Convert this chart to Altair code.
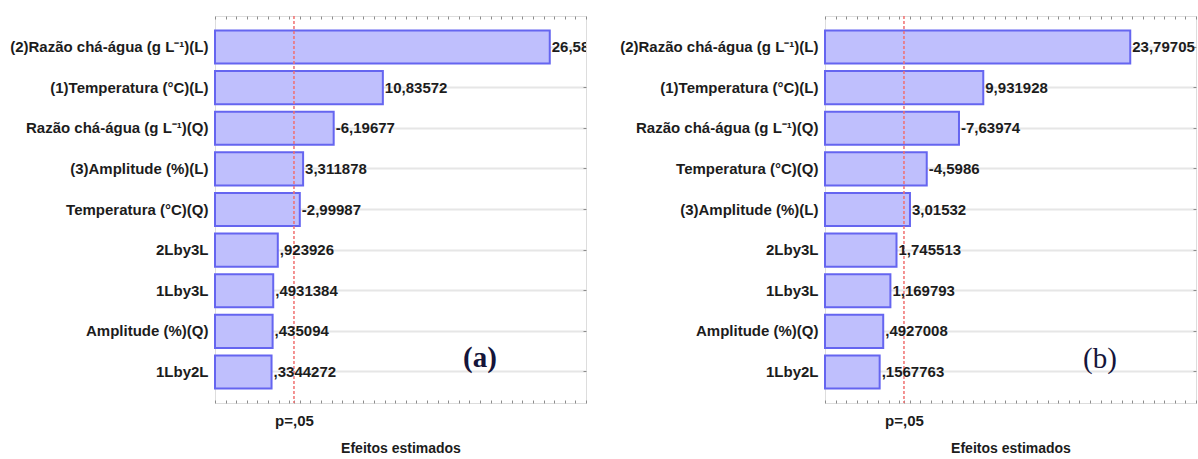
import altair as alt
import pandas as pd

# Pareto charts of standardized effects for the two responses (a) and (b)
terms_a = [
    "(2)Razão chá-água (g L⁻¹)(L)",
    "(1)Temperatura (°C)(L)",
    "Razão chá-água (g L⁻¹)(Q)",
    "(3)Amplitude (%)(L)",
    "Temperatura (°C)(Q)",
    "2Lby3L",
    "1Lby3L",
    "Amplitude (%)(Q)",
    "1Lby2L",
]
effects_a = [26.58131, 10.83572, -6.19677, 3.311878, -2.99987, 0.923926, 0.4931384, 0.435094, 0.3344272]

terms_b = [
    "(2)Razão chá-água (g L⁻¹)(L)",
    "(1)Temperatura (°C)(L)",
    "Razão chá-água (g L⁻¹)(Q)",
    "Temperatura (°C)(Q)",
    "(3)Amplitude (%)(L)",
    "2Lby3L",
    "1Lby3L",
    "Amplitude (%)(Q)",
    "1Lby2L",
]
effects_b = [23.79705, 9.931928, -7.63974, -4.5986, 3.01532, 1.745513, 1.169793, 0.4927008, 0.1567763]

# significance threshold (p = 0.05) on the effect axis
p_crit = 2.45
x_min, x_max = -5, 30

FONT = "Liberation Sans, Arial, sans-serif"
INK = "#1c1c1c"
FRAME = "#8c8c8c"


def effect_label(v):
    s = f"{v}"
    if s.startswith("0."):
        s = s[1:]
    elif s.startswith("-0."):
        s = "-" + s[2:]
    return s.replace(".", ",")


def panel(terms, effects, tag, tag_weight, tag_x, tag_y):
    df = pd.DataFrame({"term": terms, "effect": effects})
    df["magnitude"] = df["effect"].abs()
    df["label"] = [effect_label(v) for v in effects]

    x_scale = alt.Scale(domain=[x_min, x_max], zero=False, nice=False)
    y_scale = alt.Scale(paddingInner=0.187, paddingOuter=0.357)
    ticks = list(range(x_min, x_max + 1))

    base = alt.Chart(df)

    bars = base.mark_bar(fill="#bfbffd", stroke="#6565f0", strokeWidth=2).encode(
        x=alt.X(
            "magnitude:Q",
            scale=x_scale,
            axis=alt.Axis(
                orient="bottom",
                values=ticks + [p_crit],
                labelExpr=f"datum.value == {p_crit} ? 'p=,05' : ''",
                labelOverlap=False,
                labelFlush=False,
                labelBound=False,
                labelPadding=10,
                labelFont=FONT,
                labelFontSize=15,
                labelFontWeight="bold",
                labelColor=INK,
                tickSize=3,
                tickColor=FRAME,
                offset=-3,
                domain=False,
                grid=False,
                title="Efeitos estimados",
                titlePadding=13,
                titleFont=FONT,
                titleFontSize=14,
                titleFontWeight="bold",
                titleColor=INK,
            ),
        ),
        x2=alt.datum(x_min),
        y=alt.Y(
            "term:N",
            sort=terms,
            scale=y_scale,
            axis=alt.Axis(
                orient="left",
                title=None,
                labelFont=FONT,
                labelFontSize=15,
                labelFontWeight="bold",
                labelColor=INK,
                labelPadding=7,
                labelLimit=400,
                tickSize=3,
                tickColor=FRAME,
                offset=-3,
                domain=False,
                grid=True,
                gridColor="#e6e6e6",
                gridWidth=2,
            ),
        ),
    )

    rule = alt.Chart(pd.DataFrame({"p": [p_crit]})).mark_rule(
        color="#f07070", strokeDash=[3, 2], strokeWidth=1.5
    ).encode(x=alt.X("p:Q", axis=None))

    values = base.mark_text(
        align="left", baseline="middle", dx=2, clip=True,
        font=FONT, fontSize=15, fontWeight="bold", color=INK,
    ).encode(
        x=alt.X(
            "magnitude:Q",
            axis=alt.Axis(
                orient="top", values=ticks, labels=False, tickSize=3,
                tickColor=FRAME, offset=-3, domain=False, grid=False, title=None,
            ),
        ),
        y=alt.Y(
            "term:N",
            sort=terms,
            axis=alt.Axis(
                orient="right", labels=False, tickSize=3, tickColor=FRAME,
                offset=-3, domain=False, grid=False, title=None,
            ),
        ),
        text="label:N",
    )

    tag_mark = alt.Chart(pd.DataFrame({"tag": [tag]})).mark_text(
        font="Liberation Serif, DejaVu Serif, serif", fontSize=29,
        fontWeight=tag_weight, color="#15153a", align="center", baseline="middle",
    ).encode(text="tag:N", x=alt.value(tag_x), y=alt.value(tag_y))

    return (
        alt.layer(bars, rule, values, tag_mark)
        .resolve_axis(x="independent", y="independent")
        .properties(width=371, height=387)
    )


left = panel(terms_a, effects_a, "(a)", "bold", 265, 342)
right = panel(terms_b, effects_b, "(b)", "normal", 275, 343)

chart = (
    alt.hconcat(left, right, spacing=239, bounds="flush")
    .properties(padding={"left": 9, "top": 14, "right": 0, "bottom": 0})
    .configure_view(stroke=FRAME, strokeWidth=2)
    .configure_axis(labelFont=FONT, titleFont=FONT)
    .configure(background="white")
)

chart.save("out.html", embed_options={"renderer": "svg", "actions": False})
